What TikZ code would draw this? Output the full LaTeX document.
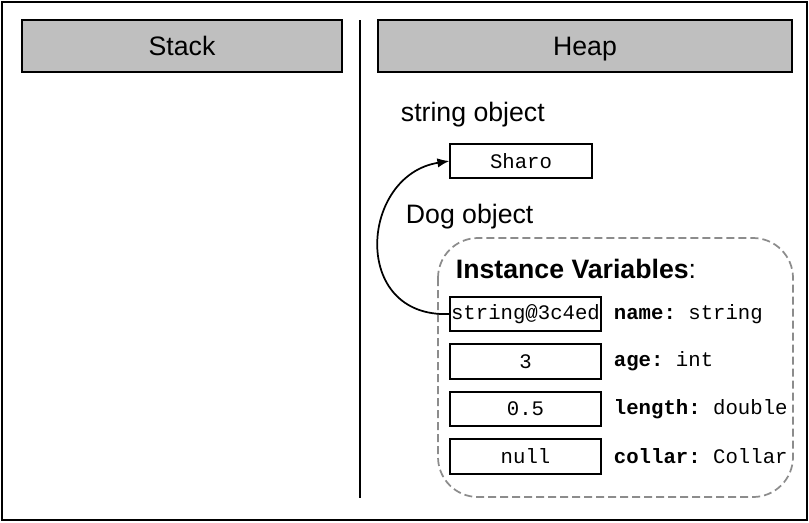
\documentclass[tikz,border=0pt]{standalone}
\usepackage{fontspec}
\setmainfont{Liberation Sans}
\setmonofont{Liberation Mono}
\usepackage{tikz}
\usetikzlibrary{arrows.meta}

\begin{document}
\begin{tikzpicture}[x=0.75pt,y=-0.75pt,line width=1.4pt,
  hdr/.style={draw,fill=black!25,minimum width=240pt,minimum height=39pt,inner sep=0pt,text height=14pt,text depth=0.5pt,font=\fontsize{20}{23}\selectfont},
  val/.style={draw,minimum width=113pt,minimum height=26pt,inner sep=0pt,font=\ttfamily\fontsize{15.5}{17}\selectfont},
  fld/.style={anchor=west,inner sep=0pt,font=\ttfamily\fontsize{15.5}{17}\selectfont},
  lbl/.style={anchor=west,inner sep=0pt,font=\fontsize{20}{23}\selectfont}]
\useasboundingbox (0,0) rectangle (809,522);
\draw (2,2) rectangle (807,520);
% headers
\node[hdr] (stack) at (182,46) {Stack};
\node[hdr,minimum width=310.5pt] (heap) at (585,46) {Heap};
\draw[line width=2.2pt] (360,20) -- (360,498);
% string object
\node[lbl] (strlbl) at (400,115) {string object};
\node[val,minimum width=106pt] (sharo) at (521,161) {Sharo};
% dog object
\node[lbl] (doglbl) at (405,217) {Dog object};
\draw[black!45,dash pattern=on 6pt off 3pt,line width=1.3pt,rounded corners=30pt] (438,238) rectangle (793,497);
\node[lbl] (ivlbl) at (455,269) {\textbf{Instance Variables}:};
\foreach \i/\v/\n/\t in {1/string@3c4ed/name/string,2/3/age/int,3/0.5/length/double,4/null/collar/Collar} {
  \node[val] (v\i) at (525.5,266.5+47.5*\i) {\v};
  \node[fld] (f\i) at (613,266.5+47.5*\i) {\textbf{\n:} \t};
}
\draw[-{Latex[length=9pt,width=7pt]},line width=1.3pt] (v1.west) .. controls (350,318) and (360,175) .. (sharo.west);
\end{tikzpicture}
\end{document}
